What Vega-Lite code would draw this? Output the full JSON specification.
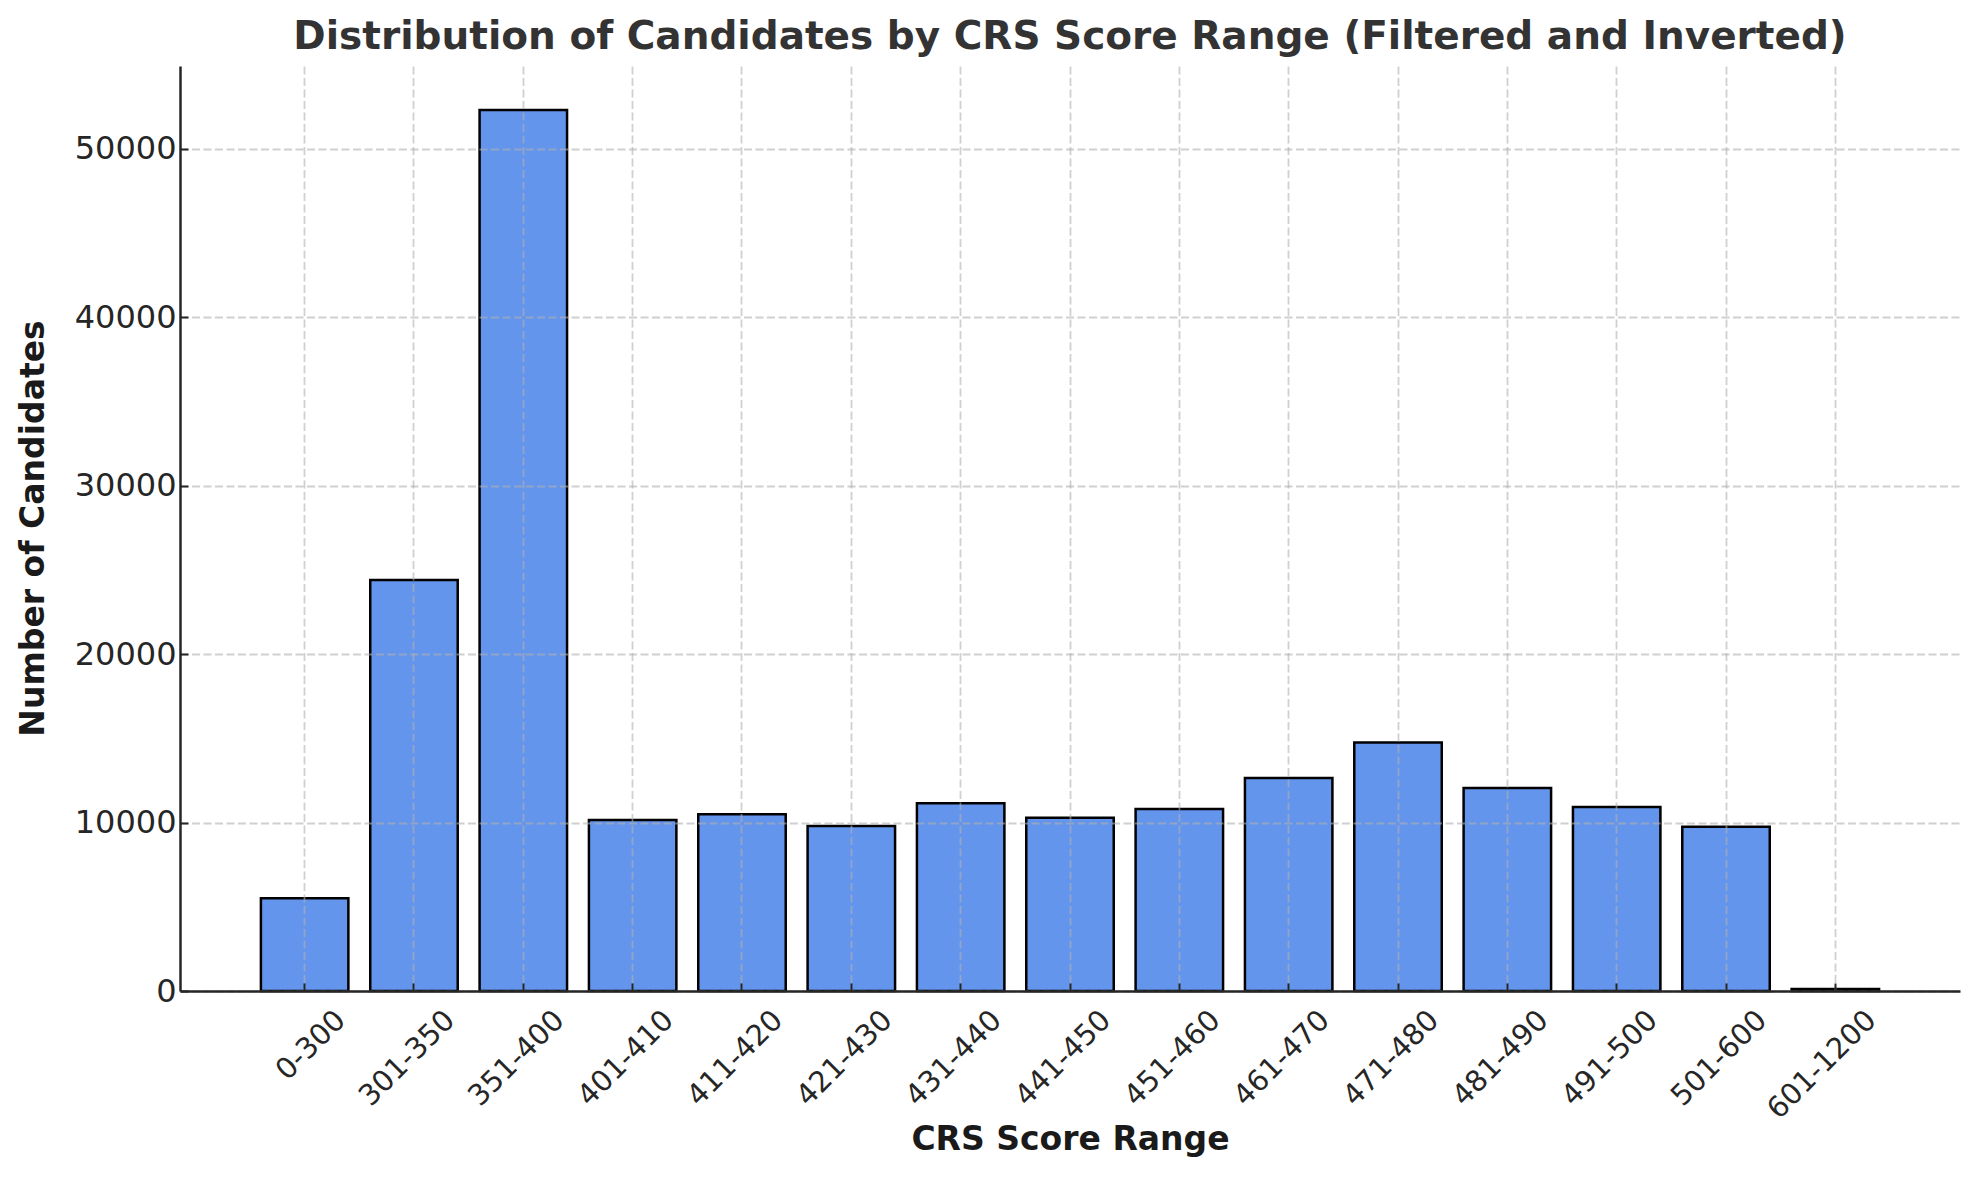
{
  "$schema": "https://vega.github.io/schema/vega-lite/v6.json",
  "width": 1780,
  "height": 925,
  "autosize": "none",
  "padding": {"left": 180, "top": 66, "right": 19, "bottom": 188},
  "background": "white",
  "config": {"view": {"stroke": null}, "font": "DejaVu Sans"},
  "title": {
    "text": "Distribution of Candidates by CRS Score Range (Filtered and Inverted)",
    "fontSize": 39,
    "fontWeight": "bold",
    "color": "#333333",
    "font": "DejaVu Sans",
    "anchor": "middle",
    "baseline": "alphabetic",
    "offset": 16,
    "dy": 38
  },
  "data": {
    "values": [
      {"range": "0-300", "count": 5500},
      {"range": "301-350", "count": 24400},
      {"range": "351-400", "count": 52300},
      {"range": "401-410", "count": 10150},
      {"range": "411-420", "count": 10500},
      {"range": "421-430", "count": 9800},
      {"range": "431-440", "count": 11150},
      {"range": "441-450", "count": 10280},
      {"range": "451-460", "count": 10800},
      {"range": "461-470", "count": 12650},
      {"range": "471-480", "count": 14750},
      {"range": "481-490", "count": 12050},
      {"range": "491-500", "count": 10920},
      {"range": "501-600", "count": 9750},
      {"range": "601-1200", "count": 120}
    ]
  },
  "mark": {"type": "bar", "fill": "#6495ED", "stroke": "#000000", "strokeWidth": 2.5},
  "encoding": {
    "x": {
      "field": "range",
      "type": "nominal",
      "sort": null,
      "scale": {"paddingInner": 0.2, "paddingOuter": 0.74},
      "axis": {
        "title": "CRS Score Range",
        "titleFontSize": 33,
        "titleFontWeight": "bold",
        "titleColor": "#1a1a1a",
        "titleFont": "DejaVu Sans",
        "titleY": 158,
        "titleBaseline": "alphabetic",
        "labelAngle": -45,
        "labelAlign": "right",
        "labelBaseline": "middle",
        "labelOffset": 36,
        "labelPadding": 32,
        "labelFontSize": 29,
        "labelColor": "#262626",
        "labelFont": "DejaVu Sans",
        "labelOverlap": false,
        "tickSize": -8,
        "tickColor": "#262626",
        "tickWidth": 2,
        "domainColor": "#262626",
        "domainWidth": 2.5,
        "grid": true,
        "gridColor": "#b0b0b0",
        "gridOpacity": 0.6,
        "gridDash": [8, 3.5],
        "gridWidth": 1.8,
        "bandPosition": 0.5,
        "zindex": 1,
        "encode": {
          "labels": {
            "update": {
              "dx": {"signal": "(length(datum.label) - 7) * 6.4"}
            }
          }
        }
      }
    },
    "y": {
      "field": "count",
      "type": "quantitative",
      "scale": {"domain": [0, 54915], "nice": false, "zero": true},
      "axis": {
        "title": "Number of Candidates",
        "titleFontSize": 33,
        "titleFontWeight": "bold",
        "titleColor": "#1a1a1a",
        "titleFont": "DejaVu Sans",
        "titleX": -137,
        "titleY": 462,
        "titleAngle": -90,
        "titleBaseline": "alphabetic",
        "values": [0, 10000, 20000, 30000, 40000, 50000],
        "format": "d",
        "labelFontSize": 32,
        "labelPadding": 12,
        "labelColor": "#262626",
        "labelFont": "DejaVu Sans",
        "tickSize": -8,
        "tickColor": "#262626",
        "tickWidth": 2,
        "domainColor": "#262626",
        "domainWidth": 2.5,
        "grid": true,
        "gridColor": "#b0b0b0",
        "gridOpacity": 0.6,
        "gridDash": [8, 3.5],
        "gridWidth": 1.8,
        "zindex": 1
      }
    }
  }
}
